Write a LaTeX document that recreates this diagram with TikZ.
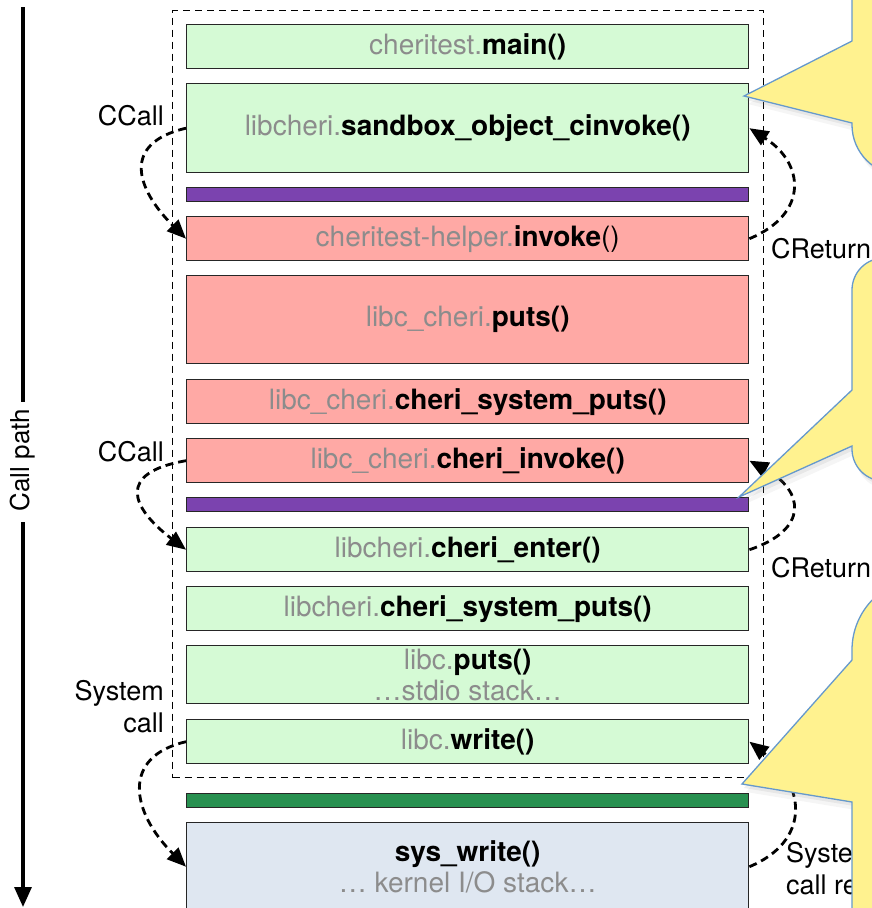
\documentclass[tikz,border=0pt]{standalone}
\usepackage{fontspec}
\setmainfont{TeX Gyre Heros}
\usetikzlibrary{arrows.meta,shadows}
\definecolor{boxgreen}{RGB}{213,250,213}
\definecolor{boxpink}{RGB}{255,169,165}
\definecolor{barpurple}{RGB}{123,67,175}
\definecolor{bargreen}{RGB}{40,144,80}
\definecolor{boxblue}{RGB}{223,231,241}
\definecolor{txtgray}{RGB}{140,140,140}
\definecolor{calloutyellow}{RGB}{255,242,143}
\definecolor{calloutblue}{RGB}{102,153,204}
\newcommand{\gr}[1]{{\color{txtgray}#1}}
\begin{document}
\begin{tikzpicture}[x=1pt,y=-1pt,
  fnt/.style={font=\fontsize{28}{31}\selectfont},
  box/.style={draw=black!85, line width=1.4pt, minimum width=562pt, anchor=north west, inner sep=0pt, fnt, align=center},
  bar/.style={draw=black!85, line width=1.4pt, minimum width=562pt, minimum height=14pt, anchor=north west, inner sep=0pt},
  lbl/.style={font=\fontsize{27}{32}\selectfont, inner sep=0pt},
  callarrow/.style={line width=2.8pt, dash pattern=on 8pt off 5pt, -{Triangle[length=19pt,width=16pt]}},
  callout/.style={fill=calloutyellow, draw=calloutblue, line width=1.3pt,
    drop shadow={shadow xshift=4pt, shadow yshift=-8pt, opacity=0.08},
    drop shadow={shadow xshift=2pt, shadow yshift=-4pt, opacity=0.12}},
]
\path[use as bounding box] (0,0) rectangle (872,908);
\clip (0,0) rectangle (872,908);

% call path axis
\coordinate (cptop) at (23,7);
\coordinate (cpmid1) at (23,402);
\coordinate (cpmid2) at (23,522);
\coordinate (cpbot) at (23,907);
\draw[line width=3.2pt] (cptop) -- (cpmid1);
\draw[line width=3.2pt, -{Triangle[length=20pt,width=17pt]}] (cpmid2) -- (cpbot);
\node[font=\fontsize{26}{30}\selectfont, rotate=90, inner sep=0pt] (cplabel) at (23,460) {Call path};

% sandbox dashed box
\node[draw, line width=1.4pt, dash pattern=on 7pt off 5pt, minimum width=591pt, minimum height=767pt, anchor=north west, inner sep=0pt] (sandbox) at (172,10) {};

% stack boxes
\node[box, fill=boxgreen, minimum height=44pt] (main) at (186,24) {\gr{cheritest.}\textbf{main()}};
\node[box, fill=boxgreen, minimum height=89pt] (cinvoke) at (186,83) {\gr{libcheri.}\textbf{sandbox\_object\_cinvoke()}};
\node[bar, fill=barpurple] (pbar1) at (186,187) {};
\node[box, fill=boxpink, minimum height=44pt] (invoke) at (186,216) {\gr{cheritest-helper.}\textbf{invoke}()};
\node[box, fill=boxpink, minimum height=88pt] (puts) at (186,275) {\gr{libc\_cheri.}\textbf{puts()}};
\node[box, fill=boxpink, minimum height=44pt] (csp) at (186,379) {\gr{libc\_cheri.}\textbf{cheri\_system\_puts()}};
\node[box, fill=boxpink, minimum height=44pt] (cinv) at (186,438) {\gr{libc\_cheri.}\textbf{cheri\_invoke()}};
\node[bar, fill=barpurple] (pbar2) at (186,497) {};
\node[box, fill=boxgreen, minimum height=44pt] (enter) at (186,527) {\gr{libcheri.}\textbf{cheri\_enter()}};
\node[box, fill=boxgreen, minimum height=44pt] (csp2) at (186,586) {\gr{libcheri.}\textbf{cheri\_system\_puts()}};
\node[box, fill=boxgreen, minimum height=58pt] (lputs) at (186,645) {\gr{libc.}\textbf{puts()}\\\gr{…stdio stack…}};
\node[box, fill=boxgreen, minimum height=44pt] (write) at (186,719) {\gr{libc.}\textbf{write()}};
\node[bar, fill=bargreen] (gbar) at (186,793) {};
\node[box, fill=boxblue, minimum height=88pt] (syswrite) at (186,822) {\textbf{sys\_write()}\\\gr{… kernel I/O stack…}};

% labels
\node[lbl, anchor=east] (ccall1) at (164,116) {CCall};
\node[lbl, anchor=west] (cret1) at (771,249) {CReturn};
\node[lbl, anchor=east] (ccall2) at (164,452) {CCall};
\node[lbl, anchor=west] (cret2) at (771,568) {CReturn};
\node[lbl, anchor=east, align=right] (syscall) at (164,707) {System\\call};
\node[lbl, anchor=west, align=left] (sysret) at (786,869) {System\\call return};

% call / return arrows
\draw[callarrow] (cinvoke.west) .. controls +(-65,15) and +(-50,-50) .. (invoke.west);
\draw[callarrow] (invoke.east) .. controls +(60,-25) and +(55,35) .. (cinvoke.east);
\draw[callarrow] (cinv.west) .. controls +(-70,12) and +(-55,-42) .. (enter.west);
\draw[callarrow] (enter.east) .. controls +(60,-20) and +(55,30) .. (cinv.east);
\draw[callarrow] (write.west) .. controls +(-65,15) and +(-55,-55) .. (syswrite.west);
\draw[callarrow] (syswrite.east) .. controls +(60,-25) and +(58,45) .. (write.east);

% callouts
\draw[callout] (852,-60) -- (852,41) -- (744,96) -- (852,123) -- (852,125)
  arc[start angle=180, end angle=90, radius=50] -- (930,175) -- (930,-60) -- cycle;
\draw[callout] (930,258) -- (884,258) arc[start angle=270, end angle=180, radius=32]
  -- (852,390) -- (739,497) -- (852,446) -- (852,449)
  arc[start angle=180, end angle=90, radius=32] -- (930,481) -- cycle;
\draw[callout] (930,578) -- (924,578) arc[start angle=270, end angle=180, radius=72]
  -- (852,660) -- (742,784) -- (852,802) -- (852,940) -- (930,940) -- cycle;
\end{tikzpicture}
\end{document}
